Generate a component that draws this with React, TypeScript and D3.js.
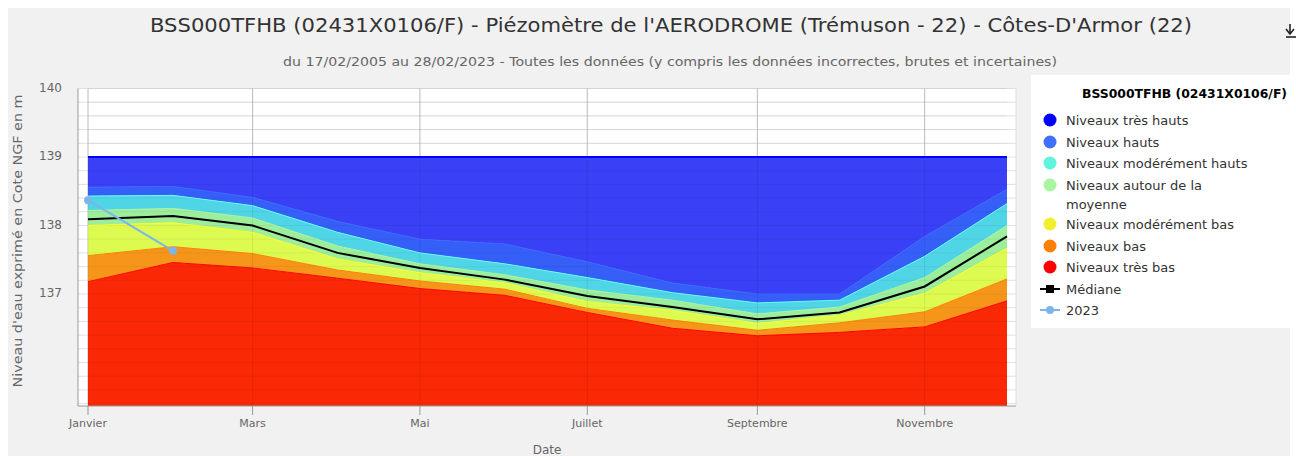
import React from 'react';
import * as d3 from 'd3';

const MONTHS = ['2024-01-01','2024-02-01','2024-03-01','2024-04-01','2024-05-01','2024-06-01','2024-07-01','2024-08-01','2024-09-01','2024-10-01','2024-11-01','2024-12-01'];
const TRES_BAS =  [137.18,137.46,137.38,137.23,137.08,136.98,136.73,136.50,136.39,136.44,136.52,136.90];
const BAS =       [137.56,137.69,137.59,137.35,137.19,137.07,136.79,136.62,136.47,136.58,136.74,137.22];
const MOD_BAS =   [138.00,138.04,137.90,137.51,137.31,137.16,136.89,136.76,136.57,136.69,137.01,137.67];
const AUTOUR =    [138.22,138.25,138.11,137.70,137.44,137.28,137.06,136.91,136.71,136.81,137.24,138.00];
const MOD_HAUTS = [138.43,138.44,138.29,137.90,137.60,137.44,137.24,137.02,136.87,136.91,137.55,138.32];
const HAUTS =     [138.56,138.57,138.41,138.06,137.80,137.73,137.47,137.16,137.00,137.00,137.84,138.53];
const TRES_HAUTS = [139,139,139,139,139,139,139,139,139,139,139,139];
const MEDIANE =   [138.09,138.14,138.00,137.60,137.38,137.21,136.97,136.81,136.63,136.73,137.11,137.84];
const Y2023_DATES = ['2024-01-01','2024-02-01'];
const Y2023 = [138.37,137.63];

const TICK_DATES = ['2024-01-01','2024-03-01','2024-05-01','2024-07-01','2024-09-01','2024-11-01'];
const TICK_LABELS = ['Janvier','Mars','Mai','Juillet','Septembre','Novembre'];
const Y_LABELS = [137,138,139,140];
const Y_MIN = 135.365;
const Y_MAX = 140;

const TITLE = "BSS000TFHB (02431X0106/F) - Piézomètre de l'AERODROME (Trémuson - 22) - Côtes-D'Armor (22)";
const SUBTITLE = "du 17/02/2005 au 28/02/2023 - Toutes les données (y compris les données incorrectes, brutes et incertaines)";
const LEGEND_TITLE = "BSS000TFHB (02431X0106/F)";

const FONT = "'DejaVu Sans', Verdana, sans-serif";

export default function App() {
  const W = 1296, H = 456;
  const parse = d3.utcParse('%Y-%m-%d');
  const dates = MONTHS.map(d => parse(d) as Date);
  const x = d3.scaleUtc().domain([dates[0], dates[dates.length - 1]]).range([88, 1007]);
  const y = d3.scaleLinear().domain([Y_MIN, Y_MAX]).range([406, 88.5]);
  const L = 78, R = 1016, T = 88.5, B = 406;

  const minArr = dates.map(() => Y_MIN);
  const bands = [
    { name: 'Niveaux très bas', lo: minArr, hi: TRES_BAS, fill: '#fa2805', line: '#ff0000', legend: '#ff0000' },
    { name: 'Niveaux bas', lo: TRES_BAS, hi: BAS, fill: '#f5961b', line: '#ff7f00', legend: '#ff7f00' },
    { name: 'Niveaux modérément bas', lo: BAS, hi: MOD_BAS, fill: '#dcfa50', line: '#ffff20', legend: '#f0f030' },
    { name: 'Niveaux autour de la moyenne', lo: MOD_BAS, hi: AUTOUR, fill: '#9cee9c', line: '#a8f5a0', legend: '#a8f5a0' },
    { name: 'Niveaux modérément hauts', lo: AUTOUR, hi: MOD_HAUTS, fill: '#4fd5e6', line: '#60fff0', legend: '#5ff5dd' },
    { name: 'Niveaux hauts', lo: MOD_HAUTS, hi: HAUTS, fill: '#365ff8', line: '#3a66ff', legend: '#4070ff' },
    { name: 'Niveaux très hauts', lo: HAUTS, hi: TRES_HAUTS, fill: '#3a40f5', line: '#0000ff', legend: '#0000ff' },
  ];

  const areaGen = (lo: number[], hi: number[]) =>
    d3.area<number>().x(i => x(dates[i])).y0(i => y(lo[i])).y1(i => y(hi[i]))(d3.range(dates.length)) || '';
  const lineGen = (vals: number[], ds: Date[]) =>
    d3.line<number>().x(i => x(ds[i])).y(i => y(vals[i]))(d3.range(vals.length)) || '';

  const minorTicks = d3.range(0, 24).map(i => 140 - i * 0.2).filter(v => v > Y_MIN);
  const tickDates = TICK_DATES.map(d => parse(d) as Date);
  const d2023 = Y2023_DATES.map(d => parse(d) as Date);

  const legendItems = [...bands].reverse();
  const legendYs = [120, 142, 163, 185, 224, 246, 267];

  return (
    <svg width={W} height={H} style={{ position: 'absolute', left: 0, top: 0 }} fontFamily={FONT}>
      <rect x={0} y={0} width={W} height={H} fill="#ffffff" />
      <rect x={8} y={8} width={1282} height={H - 8} fill="#f1f1f1" />
      <text x={671} y={32} textAnchor="middle" fontSize={20} fill="#333333" textLength={1042} lengthAdjust="spacingAndGlyphs">{TITLE}</text>
      <text x={670} y={66} textAnchor="middle" fontSize={13} fill="#666666" textLength={774} lengthAdjust="spacingAndGlyphs">{SUBTITLE}</text>
      {/* download icon */}
      <g stroke="#222" strokeWidth={1.6}>
        <line x1={1290} y1={24} x2={1290} y2={33} />
        <line x1={1286} y1={37} x2={1296} y2={37} />
      </g>
      <path d="M1286,29 L1290,34 L1294,29" fill="none" stroke="#222" strokeWidth={1.6} />

      <rect x={L} y={T} width={R - L} height={B - T} fill="#ffffff" />
      {minorTicks.map(v => (
        <line key={'g' + v} x1={L} x2={R} y1={y(v)} y2={y(v)} stroke="#e0e0e0" strokeWidth={1} />
      ))}
      {tickDates.map((d, i) => (
        <line key={'v' + i} x1={x(d)} x2={x(d)} y1={T} y2={B} stroke="#cccccc" strokeWidth={1} />
      ))}

      {bands.map(b => (
        <path key={b.name} d={areaGen(b.lo, b.hi)} fill={b.fill} stroke="none" />
      ))}
      {minorTicks.map(v => (
        <line key={'go' + v} x1={x(dates[0])} x2={x(dates[11])} y1={y(v)} y2={y(v)} stroke="#000" strokeOpacity={0.05} strokeWidth={1} />
      ))}
      {tickDates.map((d, i) => (
        <line key={'vo' + i} x1={x(d)} x2={x(d)} y1={T} y2={B} stroke="#000" strokeOpacity={0.08} strokeWidth={1} />
      ))}
      {bands.map(b => (
        <path key={'l' + b.name} d={lineGen(b.hi, dates)} fill="none" stroke={b.line} strokeWidth={b.name === 'Niveaux très hauts' ? 2 : 1} />
      ))}
      <path d={lineGen(MEDIANE, dates)} fill="none" stroke="#000000" strokeWidth={2} />
      <path d={lineGen(Y2023, d2023)} fill="none" stroke="#7cb5ec" strokeWidth={2} />
      {Y2023.map((v, i) => (
        <circle key={'p' + i} cx={x(d2023[i])} cy={y(v)} r={4} fill="#7cb5ec" />
      ))}

      {/* axes */}
      <line x1={L} x2={L} y1={T} y2={B} stroke="#999" strokeWidth={1} />
      <line x1={L} x2={R} y1={B} y2={B} stroke="#999" strokeWidth={1} />
      <line x1={R} x2={R} y1={T} y2={B} stroke="#ddd" strokeWidth={1} />
      {tickDates.map((d, i) => (
        <g key={'t' + i}>
          <line x1={x(d)} x2={x(d)} y1={B} y2={B + 9} stroke="#999" strokeWidth={1} />
          <text x={x(d)} y={427} textAnchor="middle" fontSize={11} fill="#666666">{TICK_LABELS[i]}</text>
        </g>
      ))}
      {Y_LABELS.map(v => (
        <text key={'yl' + v} x={62} y={y(v) + 3} textAnchor="end" fontSize={12} fill="#666666">{v}</text>
      ))}
      <text x={547} y={454} textAnchor="middle" fontSize={12} fill="#666666">Date</text>
      <text transform={`translate(22,241) rotate(-90)`} textAnchor="middle" fontSize={13} fill="#666666" textLength={293} lengthAdjust="spacingAndGlyphs">Niveau d'eau exprimé en Cote NGF en m</text>

      {/* legend */}
      <rect x={1031} y={75} width={265} height={253} fill="#ffffff" />
      <text x={1082} y={98} fontSize={12} fontWeight="bold" fill="#000" textLength={205} lengthAdjust="spacingAndGlyphs">{LEGEND_TITLE}</text>
      {legendItems.map((b, i) => (
        <g key={'lg' + b.name}>
          <circle cx={1050} cy={legendYs[i]} r={6.5} fill={b.legend} />
          {b.name === 'Niveaux autour de la moyenne' ? (
            <text x={1066} y={legendYs[i] + 5} fontSize={13} fill="#333333">
              <tspan x={1066}>Niveaux autour de la</tspan>
              <tspan x={1066} dy={19}>moyenne</tspan>
            </text>
          ) : (
            <text x={1066} y={legendYs[i] + 5} fontSize={13} fill="#333333">{b.name}</text>
          )}
        </g>
      ))}
      <line x1={1040} x2={1060} y1={289} y2={289} stroke="#000" strokeWidth={2} />
      <rect x={1046} y={285} width={8} height={8} fill="#000" />
      <text x={1066} y={294} fontSize={13} fill="#333333">Médiane</text>
      <line x1={1040} x2={1060} y1={310} y2={310} stroke="#7cb5ec" strokeWidth={2} />
      <circle cx={1050} cy={310} r={4} fill="#7cb5ec" />
      <text x={1066} y={315} fontSize={13} fill="#333333">2023</text>
    </svg>
  );
}
